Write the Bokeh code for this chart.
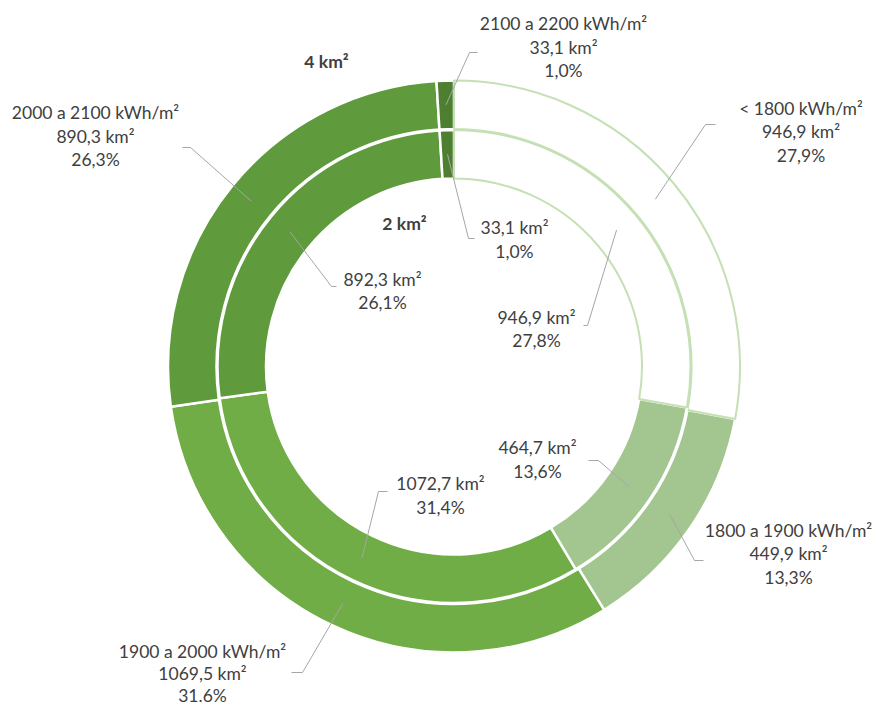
import math
from bokeh.plotting import figure
from bokeh.models import Range1d
from bokeh.embed import file_html
from bokeh.resources import INLINE
from bokeh.core.properties import value

# ---------------- data ----------------
categories = ["< 1800 kWh/m²", "1800 a 1900 kWh/m²", "1900 a 2000 kWh/m²",
              "2000 a 2100 kWh/m²", "2100 a 2200 kWh/m²"]
outer_area = [946.9, 449.9, 1069.5, 890.3, 33.1]
outer_pct = ["27,9%", "13,3%", "31.6%", "26,3%", "1,0%"]
inner_area = [946.9, 464.7, 1072.7, 892.3, 33.1]
inner_pct = ["27,8%", "13,6%", "31,4%", "26,1%", "1,0%"]
ring_titles = ["4 km²", "2 km²"]

# ---------------- style / layout ----------------
fills = ["#ffffff", "#a3c590", "#70ad47", "#5f9a3c", "#4e7f30"]
outline_light = "#c5e0b4"
text_color = "#404040"
leader_color = "#a6a6a6"
FONT = "Lato"
FS = "17.5px"

W, H = 872, 710
CX, CY = 453.5, 366.0          # centre in page pixels
R_OUT = (237.5, 286.0)
R_IN = (188.0, 236.5)
LINE_GAP = 23.5

# label layout: (text centre x, first line centre y, elbow, end, line gap) in page pixels
outer_layout = [
    (800.5, 107.5, (705, 124), (715, 124), LINE_GAP),
    (788, 529.5, (694, 560), (703, 560), LINE_GAP),
    (202, 651, (302, 672), (291, 672), 22),
    (95, 112, (190, 147), (182, 147), LINE_GAP),
    (563, 23, (469, 52), (477, 52), LINE_GAP),
]
inner_layout = [
    (536, 316.5, (587, 325), (583, 325), LINE_GAP),
    (537, 447, (598, 460), (588, 460), LINE_GAP),
    (440, 483, (378, 491), (387, 491), LINE_GAP),
    (382, 278.5, (331, 286), (336, 286), LINE_GAP),
    (514, 227, (468, 238), (474, 238), LINE_GAP),
]
title_pos = [(326, 61), (404, 222.5)]


def Y(v):
    return -v


p = figure(width=W, height=H, output_backend="svg", toolbar_location=None,
           x_range=Range1d(0, W), y_range=Range1d(-H, 0),
           x_axis_type=None, y_axis_type=None, min_border=0)
p.grid.visible = False
p.outline_line_color = None
p.background_fill_color = "white"
p.border_fill_color = "white"


def fmt_area(v):
    return f"{v:.1f}".replace(".", ",") + " km²"


def draw_ring(areas, radii):
    total = sum(areas)
    starts, ends = [], []
    acc = 0.0
    for a in areas:
        starts.append(acc / total * 2 * math.pi)
        acc += a
        ends.append(acc / total * 2 * math.pi)
    # coloured segments first, then the white (<1800) one with its outline
    for i in list(range(1, len(areas))) + [0]:
        sa = math.pi / 2 - starts[i]
        ea = math.pi / 2 - ends[i]
        if i == 0:
            p.annular_wedge(x=CX, y=Y(CY), inner_radius=radii[0], outer_radius=radii[1],
                            start_angle=sa, end_angle=ea, direction="clock",
                            fill_color="white", line_color=outline_light, line_width=2)
        else:
            p.annular_wedge(x=CX, y=Y(CY), inner_radius=radii[0], outer_radius=radii[1],
                            start_angle=sa, end_angle=ea, direction="clock",
                            fill_color=fills[i], line_color="white", line_width=2.5)
    mids = [(s + e) / 2 for s, e in zip(starts, ends)]
    return mids


def draw_labels(mids, radii, layout, lines_list):
    rm = (radii[0] + radii[1]) / 2
    for mid, (tx, ty, elbow, end, gap), lines in zip(mids, layout, lines_list):
        ax = CX + rm * math.sin(mid)
        ay = CY - rm * math.cos(mid)
        p.line(x=[ax, elbow[0], end[0]], y=[Y(ay), Y(elbow[1]), Y(end[1])],
               line_color=leader_color, line_width=1)
        for k, t in enumerate(lines):
            p.text(x=[tx], y=[Y(ty + k * gap)], text=[t],
                   text_align="center", text_baseline="middle",
                   text_font=value(FONT), text_font_size=FS, text_color=text_color)


mids_out = draw_ring(outer_area, R_OUT)
mids_in = draw_ring(inner_area, R_IN)

outer_lines = [[c, fmt_area(a), pc] for c, a, pc in zip(categories, outer_area, outer_pct)]
inner_lines = [[fmt_area(a), pc] for a, pc in zip(inner_area, inner_pct)]
draw_labels(mids_out, R_OUT, outer_layout, outer_lines)
draw_labels(mids_in, R_IN, inner_layout, inner_lines)

for (tx, ty), t in zip(title_pos, ring_titles):
    p.text(x=[tx], y=[Y(ty)], text=[t], text_align="center", text_baseline="middle",
           text_font=value(FONT), text_font_size=FS, text_font_style="bold",
           text_color=text_color)

open("out.html", "w").write(file_html(p, INLINE))
